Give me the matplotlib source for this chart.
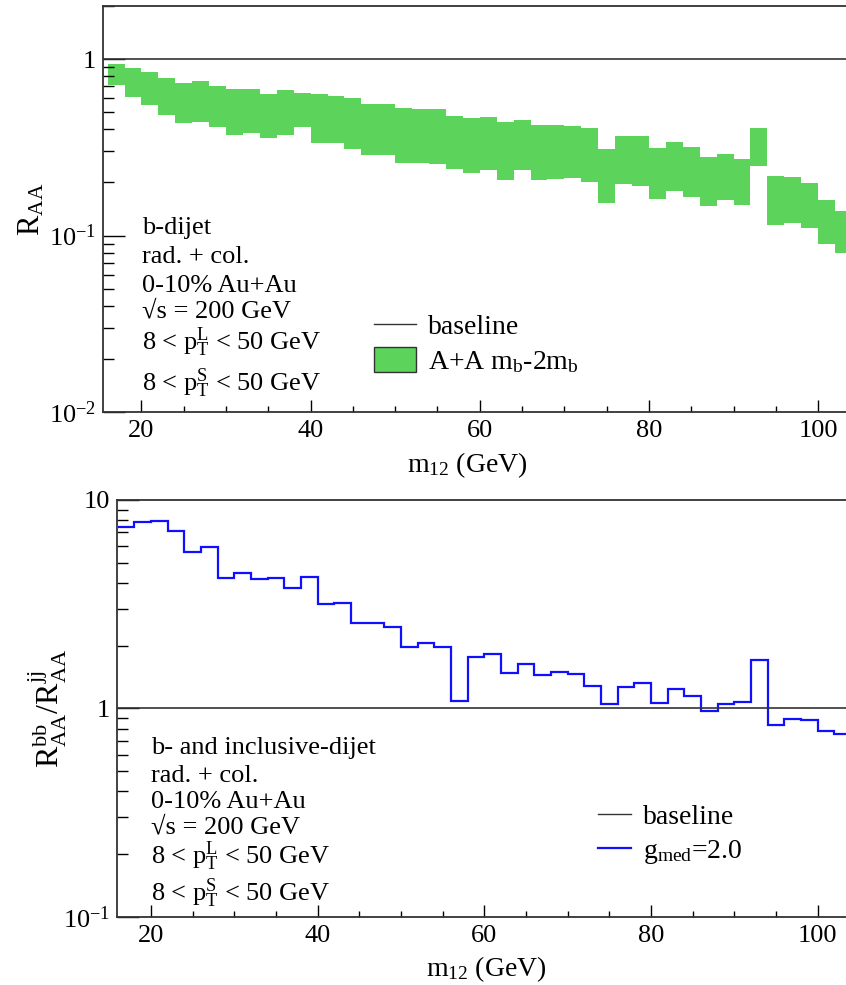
import numpy as np
import matplotlib
matplotlib.use("Agg")
import matplotlib.pyplot as plt
from matplotlib.ticker import FixedLocator, FixedFormatter, LogLocator, NullFormatter, MultipleLocator
from matplotlib.patches import Patch
from matplotlib.lines import Line2D

plt.rcParams['font.family'] = ['Liberation Serif', 'DejaVu Serif']
plt.rcParams['mathtext.fontset'] = 'custom'
plt.rcParams['mathtext.rm'] = 'Liberation Serif'
plt.rcParams['mathtext.it'] = 'Liberation Serif:italic'
plt.rcParams['mathtext.bf'] = 'Liberation Serif:bold'

# m12 bin edges (GeV), 2 GeV bins
edges = np.arange(16, 106, 2)

# top panel: b-dijet R_AA band (lower / upper edge)
raa_hi = [0.94, 0.89, 0.844, 0.783, 0.733, 0.753, 0.705, 0.675, 0.681, 0.635,
          0.669, 0.646, 0.638, 0.619, 0.600, 0.560, 0.558, 0.527, 0.522, 0.524,
          0.474, 0.464, 0.468, 0.443, 0.450, 0.423, 0.422, 0.418, 0.406, 0.308,
          0.368, 0.365, 0.314, 0.337, 0.316, 0.277, 0.291, 0.271, 0.408, 0.217,
          0.214, 0.198, 0.159, 0.138]
raa_lo = [0.715, 0.61, 0.548, 0.484, 0.433, 0.44, 0.41, 0.372, 0.38, 0.357,
          0.37, 0.412, 0.333, 0.333, 0.308, 0.285, 0.285, 0.258, 0.258, 0.253,
          0.238, 0.227, 0.236, 0.207, 0.236, 0.207, 0.209, 0.211, 0.200, 0.153,
          0.197, 0.192, 0.162, 0.180, 0.166, 0.147, 0.159, 0.149, 0.247, 0.115,
          0.118, 0.110, 0.0895, 0.080]

# bottom panel: R_AA^bb / R_AA^jj for g_med = 2.0
ratio = [7.44, 7.87, 7.89, 7.1, 5.62, 5.94, 4.22, 4.47, 4.19, 4.2,
         3.78, 4.28, 3.16, 3.2, 2.58, 2.58, 2.46, 1.98, 2.07, 1.96,
         1.09, 1.77, 1.82, 1.48, 1.63, 1.44, 1.5, 1.46, 1.28, 1.045,
         1.26, 1.32, 1.06, 1.24, 1.14, 0.97, 1.05, 1.07, 1.71, 0.83,
         0.885, 0.88, 0.778, 0.755]

info_top = ['b-dijet', 'rad. + col.', '0-10% Au+Au', '√s = 200 GeV',
            r'8 < p$_{\rm T}^{\rm L}$ < 50 GeV', r'8 < p$_{\rm T}^{\rm S}$ < 50 GeV']
info_bot = ['b- and inclusive-dijet', 'rad. + col.', '0-10% Au+Au', '√s = 200 GeV',
            r'8 < p$_{\rm T}^{\rm L}$ < 50 GeV', r'8 < p$_{\rm T}^{\rm S}$ < 50 GeV']

green = '#5cd35a'
blue = '#1010ff'
fs = 19
tfs = 19

fig = plt.figure(figsize=(8.46, 9.85), dpi=100)
ax1 = fig.add_axes([103/846, 1-412/985, 1-103/846, 406/985])
ax2 = fig.add_axes([117.3/846, 1-916.7/985, 1-117.3/846, 416.7/985])


def style(ax):
    ax.set_yscale('log')
    ax.spines['right'].set_visible(False)
    for s in ['top', 'left', 'bottom']:
        ax.spines[s].set_linewidth(1.3)
        ax.spines[s].set_color('#333333')
    ax.xaxis.set_major_locator(MultipleLocator(20))
    ax.xaxis.set_minor_locator(MultipleLocator(5))
    ax.yaxis.set_minor_locator(LogLocator(base=10, subs=range(2, 10)))
    ax.yaxis.set_minor_formatter(NullFormatter())
    ax.tick_params(axis='x', which='major', direction='in', length=9, width=1, labelsize=tfs, pad=6)
    ax.tick_params(axis='x', which='minor', direction='in', length=4, width=1)
    ax.tick_params(axis='y', which='major', direction='in', length=16, width=1, labelsize=tfs, pad=5)
    ax.tick_params(axis='y', which='minor', direction='in', length=8, width=1)


def place_info(ax, lines, x_ax, base_px, ax_bottom_px, ax_h_px):
    # baselines given in figure pixels from the top, converted to axes fraction
    for t, py in zip(lines, base_px):
        ax.text(x_ax, (ax_bottom_px - py) / ax_h_px, t, transform=ax.transAxes,
                fontsize=fs, va='baseline')


# ---- top panel
ax1.bar(edges[:-1], np.array(raa_hi) - np.array(raa_lo), bottom=raa_lo, width=2,
        align='edge', color=green, edgecolor='none', linewidth=0)
ax1.axhline(1, color='#333333', lw=1.2)
style(ax1)
ax1.set_xlim(15.45, 103.3)
ax1.set_ylim(0.01, 2.0)
ax1.yaxis.set_major_locator(FixedLocator([0.01, 0.1, 1]))
ax1.yaxis.set_major_formatter(FixedFormatter([r'10$^{-2}$', r'10$^{-1}$', '1']))
ax1.set_ylabel(r'R$_{\rm AA}$', fontsize=fs + 3)
ax1.yaxis.set_label_coords(-0.076, 0.5)
ax1.set_xlabel(r'm$_{12}$ (GeV)', fontsize=fs + 1)
ax1.xaxis.set_label_coords(0.49, -0.095)
place_info(ax1, info_top, 0.052, [234, 263, 292, 317, 350, 391], 412, 406)
h1 = [Line2D([], [], color='#333333', lw=1),
      Patch(facecolor=green, edgecolor='#333333', linewidth=1)]
ax1.legend(h1, ['baseline', r'A+A m$_{\rm b}$-2m$_{\rm b}$'], loc='upper left',
           bbox_to_anchor=(0.365, 0.245), frameon=False, fontsize=fs + 1,
           handlelength=1.5, handleheight=1.0, handletextpad=0.45,
           labelspacing=0.25, borderpad=0.0, borderaxespad=0.0)

# ---- bottom panel
ax2.stairs(ratio, edges, baseline=None, color=blue, lw=1.6)
ax2.axhline(1, color='#333333', lw=1.2)
style(ax2)
ax2.set_xlim(15.96, 103.4)
ax2.set_ylim(0.1, 10)
ax2.yaxis.set_major_locator(FixedLocator([0.1, 1, 10]))
ax2.yaxis.set_major_formatter(FixedFormatter([r'10$^{-1}$', '1', '10']))
ax2.set_ylabel(r'R$_{\rm AA}^{\rm bb}$/R$_{\rm AA}^{\rm jj}$', fontsize=fs + 4)
ax2.yaxis.set_label_coords(-0.066, 0.5)
ax2.set_xlabel(r'm$_{12}$ (GeV)', fontsize=fs + 1)
ax2.xaxis.set_label_coords(0.506, -0.09)
place_info(ax2, info_bot, 0.046, [754, 782, 808, 833, 864, 901], 916.7, 416.7)
h2 = [Line2D([], [], color='#333333', lw=1), Line2D([], [], color=blue, lw=1.6)]
ax2.legend(h2, ['baseline', r'g$_{\rm med}$=2.0'], loc='upper left',
           bbox_to_anchor=(0.659, 0.27), frameon=False, fontsize=fs + 1,
           handlelength=1.2, handletextpad=0.45, labelspacing=0.3,
           borderpad=0.0, borderaxespad=0.0)

fig.savefig('out.png', dpi=100)
